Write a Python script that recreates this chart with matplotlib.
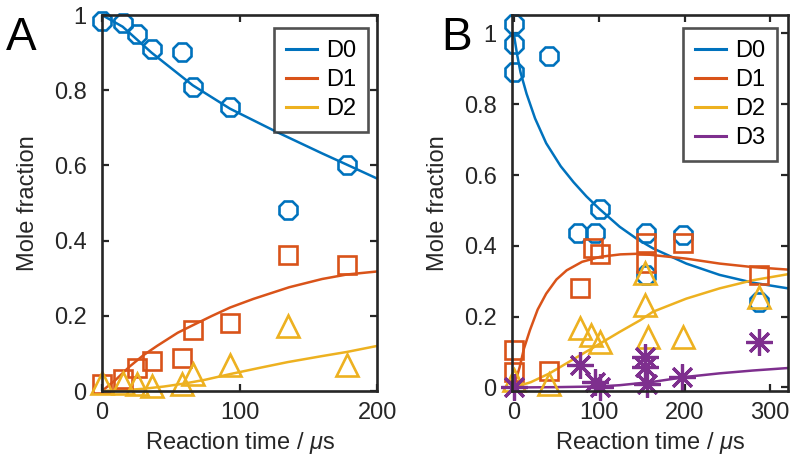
import numpy as np
import matplotlib
matplotlib.use("Agg")
import matplotlib.pyplot as plt
from matplotlib.ticker import FuncFormatter

plt.rcParams['font.family'] = ['Liberation Sans', 'DejaVu Sans']
plt.rcParams['mathtext.fontset'] = 'custom'
plt.rcParams['mathtext.it'] = 'Liberation Sans:italic'
plt.rcParams['mathtext.rm'] = 'Liberation Sans'

# MATLAB default colours
c_blue, c_red, c_yel, c_pur = '#0072BD', '#D95319', '#EDB120', '#7E2F8E'
dark = '#262626'

# ---- panel A: measured points ----
tA = [0, 15, 25.6, 36, 58, 66, 93, 135, 178]
a_d0 = [0.984, 0.978, 0.949, 0.911, 0.902, 0.809, 0.756, 0.482, 0.602]
a_d1 = [0.02, 0.033, 0.06, 0.08, 0.089, 0.162, 0.18, 0.362, 0.335]
a_d2 = [0.022, 0.022, 0.018, 0.013, 0.018, 0.045, 0.069, 0.172, 0.069]

# panel A: fitted curves
a_fit_d0_t = [0, 15, 36, 66, 93, 127, 160, 178, 200]
a_fit_d0 = [1.0, 0.969, 0.90, 0.813, 0.751, 0.689, 0.632, 0.602, 0.565]
a_fit_d1_t = [0, 10, 20, 30, 40, 55, 66, 80, 93, 110, 136, 160, 178, 200]
a_fit_d1 = [0, 0.03, 0.065, 0.095, 0.12, 0.155, 0.175, 0.20, 0.222, 0.245,
            0.276, 0.298, 0.31, 0.318]
a_fit_d2_t = [0, 15, 30, 45, 60, 75, 93, 115, 135, 160, 178, 200]
a_fit_d2 = [0, 0.002, 0.006, 0.012, 0.02, 0.03, 0.045, 0.062, 0.077, 0.093,
            0.104, 0.12]

# ---- panel B: measured points ----
b_d0_t = [0, 0, 0, 41, 75, 95, 101, 155, 155, 198, 287]
b_d0 = [1.026, 0.969, 0.892, 0.937, 0.437, 0.437, 0.503, 0.437, 0.317, 0.43, 0.242]
b_d1_t = [0, 0, 41, 77, 93, 101, 155, 155, 198, 287]
b_d1 = [0.105, 0.044, 0.047, 0.28, 0.395, 0.377, 0.407, 0.352, 0.408, 0.317]
b_d2_t = [0, 41, 77, 91, 101, 154, 154, 157, 198, 287]
b_d2 = [0.02, 0.011, 0.167, 0.148, 0.129, 0.322, 0.232, 0.143, 0.143, 0.256]
b_d3_t = [0, 77, 95, 101, 154, 154, 156, 197, 287]
b_d3 = [0.002, 0.063, 0.016, 0.002, 0.086, 0.058, 0.011, 0.03, 0.129]

# panel B: fitted curves
b_fit_d0_t = [0, 4, 8, 15, 25, 38, 55, 70, 85, 100, 124, 144, 163, 202, 241, 280, 321]
b_fit_d0 = [1.0, 0.94, 0.89, 0.83, 0.76, 0.69, 0.625, 0.58, 0.54, 0.505, 0.454,
            0.42, 0.393, 0.35, 0.318, 0.296, 0.28]
b_fit_d1_t = [0, 7, 12, 19, 28, 38, 50, 62, 80, 101, 125, 148, 163, 202, 241, 280, 321]
b_fit_d1 = [0, 0.058, 0.11, 0.162, 0.22, 0.265, 0.305, 0.331, 0.355, 0.369, 0.376,
            0.378, 0.374, 0.364, 0.35, 0.34, 0.333]
b_fit_d2_t = [0, 20, 42, 70, 101, 124, 148, 163, 202, 241, 280, 321]
b_fit_d2 = [0, 0.015, 0.04, 0.08, 0.124, 0.157, 0.19, 0.214, 0.251, 0.28, 0.303, 0.32]
b_fit_d3_t = [0, 50, 100, 124, 163, 202, 241, 280, 321]
b_fit_d3 = [0, 0.001, 0.003, 0.0065, 0.016, 0.03, 0.04, 0.048, 0.055]

ms_o, ms_s, ms_t, ms_a = 14, 13, 16, 19
mew = 1.9
lw = 1.8
star = (8, 2, 0)
fs = 17


def style_axes(ax):
    for sp in ax.spines.values():
        sp.set_color(dark)
        sp.set_linewidth(1.9)
    ax.tick_params(direction='in', top=True, right=True, length=5, width=1.6,
                   color=dark, labelcolor=dark, labelsize=fs)
    ax.tick_params(axis='y', pad=11)
    ax.tick_params(axis='x', pad=8)
    ax.yaxis.set_major_formatter(FuncFormatter(lambda v, p: '%g' % round(v, 2)))
    ax.set_xlabel(r'Reaction time / $\mu$s', fontsize=fs, color=dark, labelpad=4)
    ax.set_ylabel('Mole fraction', fontsize=fs, color=dark, labelpad=11)


fig = plt.figure(figsize=(8, 4.7), dpi=100)
axA = fig.add_axes([0.1275, 0.168, 0.344, 0.8])
axB = fig.add_axes([0.640, 0.168, 0.345, 0.8])

# panel A
axA.plot(a_fit_d0_t, a_fit_d0, color=c_blue, lw=lw, label='D0')
axA.plot(a_fit_d1_t, a_fit_d1, color=c_red, lw=lw, label='D1')
axA.plot(a_fit_d2_t, a_fit_d2, color=c_yel, lw=lw, label='D2')
axA.plot(tA, a_d0, '8', ms=ms_o, mfc='none', mec=c_blue, mew=mew, clip_on=False)
axA.plot(tA, a_d1, 's', ms=ms_s, mfc='none', mec=c_red, mew=mew, clip_on=False)
axA.plot(tA, a_d2, '^', ms=ms_t, mfc='none', mec=c_yel, mew=mew, clip_on=False)
axA.set_xlim(0, 200)
axA.set_ylim(0, 1)
axA.set_xticks([0, 100, 200])
axA.set_yticks([0, 0.2, 0.4, 0.6, 0.8, 1])
style_axes(axA)

# panel B
axB.plot(b_fit_d0_t, b_fit_d0, color=c_blue, lw=lw, label='D0')
axB.plot(b_fit_d1_t, b_fit_d1, color=c_red, lw=lw, label='D1')
axB.plot(b_fit_d2_t, b_fit_d2, color=c_yel, lw=lw, label='D2')
axB.plot(b_fit_d3_t, b_fit_d3, color=c_pur, lw=lw, label='D3')
axB.plot(b_d0_t, b_d0, '8', ms=ms_o, mfc='none', mec=c_blue, mew=mew, clip_on=False)
axB.plot(b_d1_t, b_d1, 's', ms=ms_s, mfc='none', mec=c_red, mew=mew, clip_on=False)
axB.plot(b_d2_t, b_d2, '^', ms=ms_t, mfc='none', mec=c_yel, mew=mew, clip_on=False)
axB.plot(b_d3_t, b_d3, marker=star, ls='none', ms=ms_a, mec=c_pur, mew=2.3, clip_on=False)
axB.set_xlim(-2, 321)
axB.set_ylim(-0.01, 1.052)
axB.set_xticks([0, 100, 200, 300])
axB.set_yticks([0, 0.2, 0.4, 0.6, 0.8, 1])
style_axes(axB)

for ax, xa in ((axA, 0.967), (axB, 0.960)):
    leg = ax.legend(loc='upper right', bbox_to_anchor=(xa, 0.965), borderaxespad=0,
                    fontsize=fs, frameon=True, fancybox=False,
                    handlelength=1.3, labelspacing=0.3, borderpad=0.5,
                    handletextpad=0.4)
    leg.get_frame().set_edgecolor(dark)
    leg.get_frame().set_linewidth(1.9)
    for ln in leg.get_lines():
        ln.set_linewidth(2.2)
    for t in leg.get_texts():
        t.set_color('black')

fig.text(0.008, 0.894, 'A', fontsize=33, color='black')
fig.text(0.551, 0.894, 'B', fontsize=33, color='black')

fig.savefig('out.png', dpi=100)
